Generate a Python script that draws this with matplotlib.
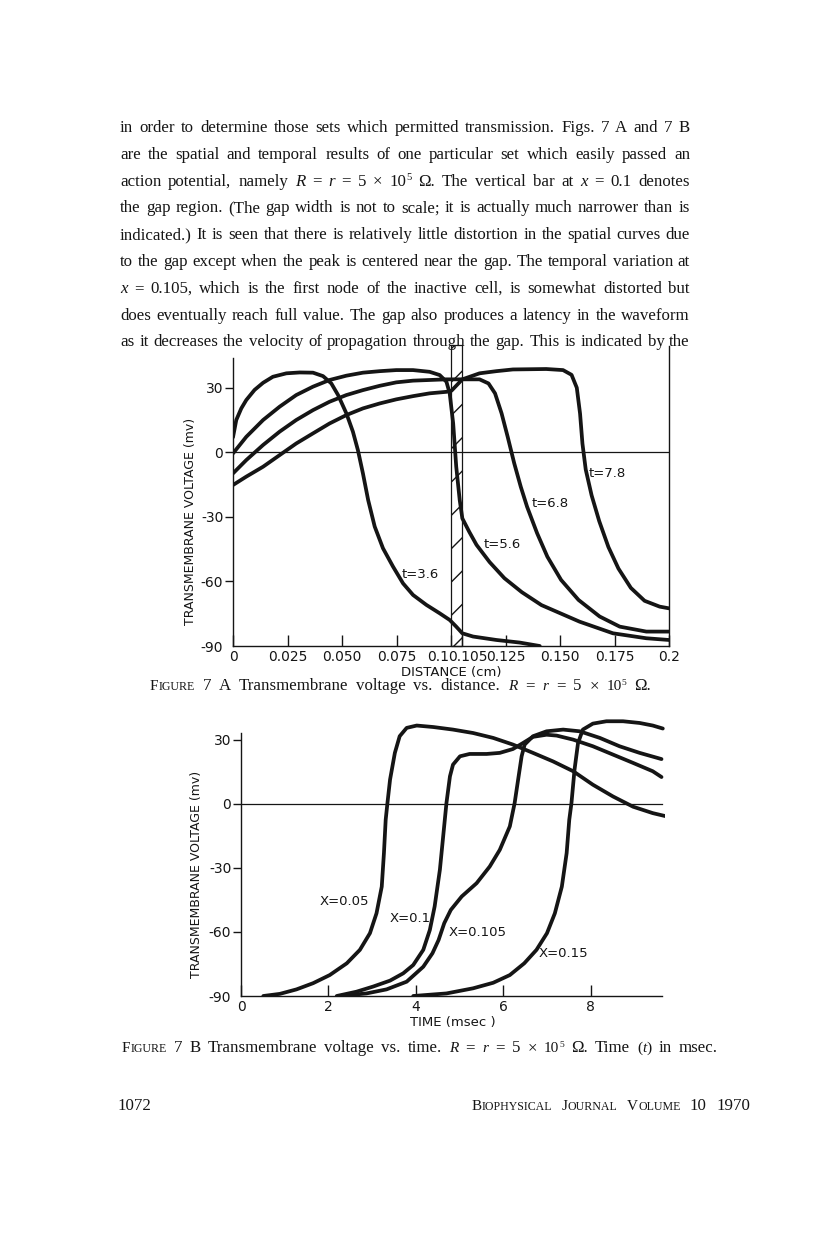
import matplotlib
matplotlib.use('Agg')
import matplotlib.pyplot as plt
import matplotlib.transforms as mtransforms
from matplotlib.patches import Rectangle

W, H = 816, 1238
SERIF = ['Liberation Serif', 'DejaVu Serif']
SANS = ['DejaVu Sans']
INK = '#151515'

# ---------------- Figure 7 A : voltage vs distance (cm) at fixed times
dist_t36 = [0, 0.0015, 0.0038, 0.0061, 0.0099, 0.0138, 0.0183, 0.0245, 0.0306, 0.0367,
            0.0413, 0.0451, 0.0482, 0.052, 0.055, 0.0573, 0.0596, 0.062, 0.065, 0.0688,
            0.0734, 0.078, 0.0826, 0.0887, 0.0948, 0.0994, 0.1024, 0.1052, 0.1101, 0.1208,
            0.1315, 0.1407]
volt_t36 = [7, 15, 20.4, 24.3, 29, 32.3, 35.1, 36.7, 37.1, 37,
            35.4, 32, 26.6, 18.1, 9.6, 1, -9.8, -22.2, -34.5, -44.6,
            -53.1, -60.9, -66.3, -70.9, -74.8, -77.9, -81, -84.1, -85.6, -87.2,
            -88.4, -90]

dist_t56 = [0, 0.0061, 0.0138, 0.0214, 0.029, 0.0367, 0.0443, 0.052, 0.0596, 0.0673,
            0.0749, 0.0826, 0.0902, 0.0948, 0.0979, 0.0994, 0.101, 0.1024, 0.104, 0.1052,
            0.1084, 0.1117, 0.1177, 0.1245, 0.1325, 0.1415, 0.159, 0.1743, 0.1896, 0.2]
volt_t56 = [-0.5, 7.2, 15, 21.2, 26.6, 30.5, 33.6, 35.6, 37, 37.7,
            38.2, 38.2, 37.4, 35.9, 32.8, 27.4, 13.4, -6.7, -22.2, -30.7,
            -37, -43, -51, -58.5, -65, -71, -78.7, -84.1, -86.4, -87.2]

dist_t68 = [0, 0.0061, 0.0138, 0.0214, 0.029, 0.0367, 0.0443, 0.052, 0.0596, 0.0673,
            0.0749, 0.0826, 0.0979, 0.1131, 0.1172, 0.1202, 0.1232, 0.126, 0.129, 0.132,
            0.1349, 0.1395, 0.1442, 0.1505, 0.1585, 0.1682, 0.1774, 0.1896, 0.2]
volt_t68 = [-9.8, -3.6, 3.4, 9.6, 15, 19.6, 23.5, 26.6, 28.9, 30.9,
            32.5, 33.3, 33.9, 33.9, 32, 27.4, 18.1, 7.2, -5.1, -16,
            -25.3, -37.6, -48.5, -59.3, -68.6, -76.3, -81, -83.3, -83.3]

dist_t78 = [0, 0.0061, 0.0138, 0.0214, 0.029, 0.0367, 0.0443, 0.052, 0.0596, 0.0673,
            0.0749, 0.0826, 0.0902, 0.0979, 0.1002, 0.1052, 0.1131, 0.1208, 0.1284, 0.1437,
            0.1514, 0.1553, 0.1577, 0.1592, 0.1603, 0.1618, 0.1645, 0.168, 0.1722, 0.1768,
            0.1825, 0.1888, 0.1957, 0.2]
volt_t78 = [-15.2, -11.3, -6.7, -1.3, 4.1, 8.8, 13.4, 17.3, 20.4, 22.7,
            24.6, 26.1, 27.4, 28.1, 28.6, 33.9, 36.7, 37.7, 38.5, 38.7,
            38.2, 36, 30, 18, 4, -8, -20, -32, -44, -54,
            -63, -69, -71.7, -72.5]

labels_a = ['t=3.6', 't=5.6', 't=6.8', 't=7.8']
label_pos_a = [(0.0772, -57), (0.1150, -43), (0.1370, -23.7), (0.1632, -9.8)]

dist_ticks = [0, 0.025, 0.05, 0.075, 0.1, 0.105, 0.125, 0.15, 0.175, 0.2]
dist_ticklabels = ['0', '0.025', '0.050', '0.075', '0.1', '0.105', '0.125', '0.150', '0.175', '0.2']
gap_start, gap_end = 0.1, 0.105

# ---------------- Figure 7 B : voltage vs time (msec) at fixed positions
time_x005 = [0.51, 0.89, 1.27, 1.65, 2.03, 2.42, 2.72, 2.95, 3.1, 3.22, 3.27, 3.31, 3.35,
             3.41, 3.52, 3.63, 3.79, 4.02, 4.4, 4.85, 5.31, 5.77, 6.22, 6.68, 7.14, 7.6,
             8.05, 8.51, 8.97, 9.42, 9.73]
volt_x005 = [-90, -89, -86.9, -84, -80.2, -74.7, -68.4, -60.6, -51.3, -38.8, -23.1, -7.5, 0.3,
             11.3, 23.8, 31.6, 35.5, 36.6, 35.9, 34.7, 33.1, 30.8, 27.7, 23.8, 19.8, 15.2,
             8.9, 3.4, -1.4, -4.4, -5.9]

time_x01 = [2.19, 2.64, 3.02, 3.41, 3.71, 3.94, 4.17, 4.32, 4.43, 4.55, 4.64, 4.7, 4.78,
            4.85, 5.01, 5.23, 5.62, 5.92, 6.22, 6.45, 6.68, 6.99, 7.22, 7.6, 8.05, 8.51,
            8.97, 9.42, 9.62]
volt_x01 = [-90, -88, -85.6, -82.8, -79.4, -75.5, -68.4, -59.1, -48.1, -30.9, -12.2, 0.3, 12.8,
            18.3, 22.2, 23.3, 23.3, 23.8, 25.6, 28.4, 31.3, 32.3, 31.9, 30, 26.9, 23,
            19.1, 15.2, 12.5]

time_x0105 = [2.26, 2.87, 3.33, 3.79, 4.17, 4.38, 4.52, 4.65, 4.8, 5.05, 5.39, 5.69, 5.92,
              6.15, 6.26, 6.34, 6.42, 6.49, 6.68, 6.99, 7.37, 7.75, 8.21, 8.66, 9.12, 9.62]
volt_x0105 = [-90, -88.8, -86.9, -83.3, -76.3, -70, -63.8, -55.9, -49.7, -43.4, -37.2, -29.4, -21.6,
              -10.6, 0.3, 11.3, 22.2, 27.7, 31.6, 33.9, 34.7, 33.9, 30.8, 26.9, 23.8, 20.9]

time_x015 = [3.94, 4.7, 5.31, 5.77, 6.15, 6.48, 6.76, 7.0, 7.18, 7.34, 7.45, 7.51, 7.56,
             7.63, 7.71, 7.82, 8.05, 8.36, 8.74, 9.12, 9.42, 9.65]
volt_x015 = [-90, -88.8, -86.4, -83.8, -80.2, -74.7, -68.4, -60.6, -51.3, -38.8, -23.1, -7.5, 0.3,
             15.9, 28.4, 34.7, 37.5, 38.6, 38.6, 37.8, 36.6, 35.2]

labels_b = ['X=0.05', 'X=0.1', 'X=0.105', 'X=0.15']
label_pos_b = [(1.79, -45.8), (3.41, -53.6), (4.76, -60.2), (6.8, -70)]

time_ticks = [0, 2, 4, 6, 8]
time_end = 9.64

volt_ticks = [-90, -60, -30, 0, 30]


def place_line(fig, tokens, y, x0, x1=None, gap=6.0):
    """Put word tokens on one baseline (pixels from top); justified if x1 given."""
    r = fig.canvas.get_renderer()
    made, widths = [], []
    for tok in tokens:
        if isinstance(tok, str):
            tok = [(tok, None, 'normal', 0)]
        arts, w = [], 0.0
        for txt, size, style, dy in tok:
            t = fig.text(0, 0, txt, fontsize=size or FS, fontstyle=style,
                         family=SERIF, va='baseline', ha='left', color=INK)
            arts.append((t, w, dy))
            w += t.get_window_extent(r).width
        made.append(arts)
        widths.append(w)
    if x1 is not None and len(tokens) > 1:
        gap = (x1 - x0 - sum(widths)) / (len(tokens) - 1)
    x = x0
    for arts, w in zip(made, widths):
        for t, off, dy in arts:
            t.set_position(((x + off) / W, 1 - (y - dy) / H))
        x += w + gap


def it(s, size=None):
    return [(s, size, 'italic', 0)]


def power(base, exp, size):
    return [(base, size, 'normal', 0), (exp, size * 0.62, 'normal', size * 0.45)]


def smallcaps(word, big, small):
    return [(word[0], big, 'normal', 0), (word[1:], small, 'normal', 0)]


fig = plt.figure(figsize=(W / 100, H / 100), dpi=100)
fig.patch.set_facecolor('white')

# ---------------- body text
FS = 12.2
lines = [
    "in order to determine those sets which permitted transmission. Figs. 7 A and 7 B".split(),
    "are the spatial and temporal results of one particular set which easily passed an".split(),
    ["action", "potential,", "namely", it("R"), "=", it("r"), "=", "5", "\u00d7",
     power("10", "5", FS), "\u03a9.", "The", "vertical", "bar", "at", it("x"), "=", "0.1", "denotes"],
    "the gap region. (The gap width is not to scale; it is actually much narrower than is".split(),
    "indicated.) It is seen that there is relatively little distortion in the spatial curves due".split(),
    "to the gap except when the peak is centered near the gap. The temporal variation at".split(),
    [it("x"), "="] + "0.105, which is the first node of the inactive cell, is somewhat distorted but".split(),
    "does eventually reach full value. The gap also produces a latency in the waveform".split(),
    "as it decreases the velocity of propagation through the gap. This is indicated by the".split(),
]
for i, words in enumerate(lines):
    place_line(fig, words, 132 + i * 26.8, 120, 690)

# ---------------- Figure 7 A
axA = fig.add_axes([233 / W, 1 - 646 / H, 436 / W, (646 - 349) / H])
axA.set_xlim(0, 0.2)
axA.set_ylim(-90, 48)
for d, v in [(dist_t36, volt_t36), (dist_t56, volt_t56), (dist_t68, volt_t68), (dist_t78, volt_t78)]:
    axA.plot(d, v, color=INK, lw=2.7, solid_capstyle='round', solid_joinstyle='round')
axA.axhline(0, color=INK, lw=0.9)
axA.add_patch(Rectangle((gap_start, -90), gap_end - gap_start, 140, fill=False, hatch='/',
                        edgecolor=INK, lw=0.9, clip_on=False))
for lab, (x, y) in zip(labels_a, label_pos_a):
    axA.text(x, y, lab, fontsize=9.5, family=SANS, va='center', ha='left', color=INK)
axA.spines['top'].set_visible(False)
axA.spines['left'].set_bounds(-90, 44)
axA.spines['right'].set_bounds(-90, 49.5)
for s in axA.spines.values():
    s.set_linewidth(1.0)
    s.set_color(INK)
axA.set_yticks(volt_ticks)
axA.set_yticklabels([str(v) for v in volt_ticks])
axA.set_xticks(dist_ticks)
axA.set_xticklabels(dist_ticklabels)
axA.tick_params(axis='y', direction='out', length=6, width=1, pad=1, labelsize=10, colors=INK)
axA.tick_params(axis='x', direction='in', length=8, width=1, pad=3, labelsize=10, colors=INK)
axA.yaxis.get_major_ticks()[0].tick1line.set_visible(False)
labsA = axA.get_xticklabels()
for k, dx in [(4, -13), (5, 6)]:
    labsA[k].set_transform(labsA[k].get_transform() +
                           mtransforms.ScaledTranslation(dx / 100, 0, fig.dpi_scale_trans))
axA.set_xlabel('DISTANCE (cm)', fontsize=9.5, family=SANS, labelpad=1, color=INK)
axA.set_ylabel('TRANSMEMBRANE VOLTAGE (mv)', fontsize=9, family=SANS, color=INK)
axA.yaxis.set_label_coords(-0.083, 0.42)

# ---------------- Figure 7 B
axB = fig.add_axes([241 / W, 1 - 996 / H, 424 / W, (996 - 714) / H])
axB.set_xlim(0, 9.7)
axB.set_ylim(-90, 42)
for t, v in [(time_x005, volt_x005), (time_x01, volt_x01), (time_x0105, volt_x0105), (time_x015, volt_x015)]:
    axB.plot(t, v, color=INK, lw=2.7, solid_capstyle='round', solid_joinstyle='round')
axB.axhline(0, xmax=time_end / 9.7, color=INK, lw=0.9)
for lab, (x, y) in zip(labels_b, label_pos_b):
    axB.text(x, y, lab, fontsize=9.5, family=SANS, va='center', ha='left', color=INK)
axB.spines['top'].set_visible(False)
axB.spines['right'].set_visible(False)
axB.spines['left'].set_bounds(-90, 33)
axB.spines['bottom'].set_bounds(0, time_end)
for s in axB.spines.values():
    s.set_linewidth(1.0)
    s.set_color(INK)
axB.set_yticks(volt_ticks)
axB.set_yticklabels([str(v) for v in volt_ticks])
axB.set_xticks(time_ticks)
axB.set_xticklabels([str(t) for t in time_ticks])
axB.tick_params(axis='y', direction='out', length=6, width=1, pad=1, labelsize=10, colors=INK)
axB.tick_params(axis='x', direction='in', length=8, width=1, pad=3, labelsize=10, colors=INK)
axB.yaxis.get_major_ticks()[0].tick1line.set_visible(False)
axB.set_xlabel('TIME (msec )', fontsize=9.5, family=SANS, labelpad=1, color=INK)
axB.set_ylabel('TRANSMEMBRANE VOLTAGE (mv)', fontsize=9, family=SANS, color=INK)
axB.yaxis.set_label_coords(-0.09, 0.43)

# ---------------- captions and footer
CS = 11
place_line(fig, [smallcaps('FIGURE', CS, CS * 0.78), "7", "A", "Transmembrane", "voltage", "vs.",
                 "distance.", it("R", CS), "=", it("r", CS), "=", "5", "\u00d7",
                 power("10", "5", CS), "\u03a9."], 690, 150, 651)
place_line(fig, [smallcaps('FIGURE', CS, CS * 0.78), "7", "B", "Transmembrane", "voltage", "vs.",
                 "time.", it("R", CS), "=", it("r", CS), "=", "5", "\u00d7", power("10", "5", CS),
                 "\u03a9.", "Time", [("(", CS, 'normal', 0), ("t", CS, 'italic', 0), (")", CS, 'normal', 0)],
                 "in", "msec."], 1052, 122, 718)
place_line(fig, ["1072"], 1110, 118)
place_line(fig, [smallcaps('BIOPHYSICAL', CS, CS * 0.78), smallcaps('JOURNAL', CS, CS * 0.78),
                 smallcaps('VOLUME', CS, CS * 0.78), "10", "1970"], 1110, 472, 750)

fig.savefig('out.png', dpi=100, facecolor='white')
